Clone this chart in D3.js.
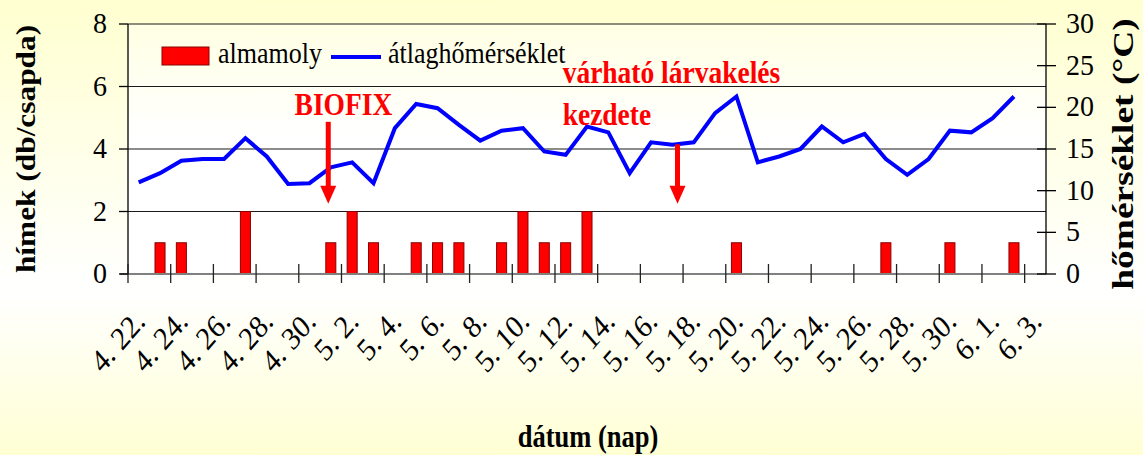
<!DOCTYPE html>
<html>
<head>
<meta charset="utf-8">
<script src="https://cdn.jsdelivr.net/npm/d3@7"></script>
<style>
html, body { margin: 0; padding: 0; }
body { width: 1143px; height: 455px; overflow: hidden; }
svg { display: block; }
</style>
</head>
<body>
<svg id="chart" width="1143" height="455"></svg>
<script>
// one category per day, 4.22. - 6.3.
const days = [
    "4. 22.", "4. 23.", "4. 24.", "4. 25.", "4. 26.", "4. 27.", "4. 28.", "4. 29.", "4. 30.",
    "5. 1.", "5. 2.", "5. 3.", "5. 4.", "5. 5.", "5. 6.", "5. 7.", "5. 8.", "5. 9.", "5. 10.",
    "5. 11.", "5. 12.", "5. 13.", "5. 14.", "5. 15.", "5. 16.", "5. 17.", "5. 18.", "5. 19.",
    "5. 20.", "5. 21.", "5. 22.", "5. 23.", "5. 24.", "5. 25.", "5. 26.", "5. 27.", "5. 28.",
    "5. 29.", "5. 30.", "5. 31.", "6. 1.", "6. 2.", "6. 3."
];

// male moths caught (db/csapda)
const almamoly = [
    0, 1, 1, 0, 0, 2, 0, 0, 0,
    1, 2, 1, 0, 1, 1, 1, 0, 1, 2,
    1, 1, 2, 0, 0, 0, 0, 0, 0,
    1, 0, 0, 0, 0, 0, 0, 1, 0,
    0, 1, 0, 0, 1, 0
];

// daily mean temperature (°C)
const atlaghomerseklet = [
    11.0, 12.1, 13.6, 13.8, 13.8, 16.3, 14.1, 10.8, 10.9,
    12.8, 13.4, 10.9, 17.5, 20.4, 19.9, 17.9, 16.0, 17.2, 17.5,
    14.7, 14.3, 17.7, 17.0, 12.1, 15.8, 15.5, 15.8, 19.3,
    21.3, 13.4, 14.1, 15.0, 17.7, 15.8, 16.8, 13.8, 11.9,
    13.8, 17.2, 17.0, 18.7, 21.3, null
];

const xTickLabels = [
    "4. 22.", "4. 24.", "4. 26.", "4. 28.", "4. 30.", "5. 2.", "5. 4.", "5. 6.", "5. 8.",
    "5. 10.", "5. 12.", "5. 14.", "5. 16.", "5. 18.", "5. 20.", "5. 22.", "5. 24.", "5. 26.",
    "5. 28.", "5. 30.", "6. 1.", "6. 3."
];
const leftTicks = [0, 2, 4, 6, 8];
const rightTicks = [0, 5, 10, 15, 20, 25, 30];

const svg = d3.select("#chart");
const W = 1143, H = 455;
const plot = {left: 128, right: 1046, top: 24, bottom: 274};
const serif = "'Liberation Serif', 'Times New Roman', Times, serif";

//the picture looks a little stretched vertically, texts too
const stretch = 1.12;

//background gradients
const defs = svg.append("defs");
const bg = defs.append("linearGradient").attr("id", "bg")
    .attr("x1", 0).attr("y1", 0).attr("x2", 0).attr("y2", 1);
bg.append("stop").attr("offset", "0%").attr("stop-color", "#ffffd0");
bg.append("stop").attr("offset", "64%").attr("stop-color", "#ffffff");
bg.append("stop").attr("offset", "100%").attr("stop-color", "#ffffd4");

const pg = defs.append("linearGradient").attr("id", "pg")
    .attr("x1", 0).attr("y1", 0).attr("x2", 0).attr("y2", 1);
pg.append("stop").attr("offset", "0%").attr("stop-color", "#ffffe4");
pg.append("stop").attr("offset", "45%").attr("stop-color", "#ffffff");
pg.append("stop").attr("offset", "100%").attr("stop-color", "#ffffff");

svg.append("rect").attr("width", W).attr("height", H).attr("fill", "url(#bg)");
svg.append("rect")
    .attr("x", plot.left).attr("y", plot.top)
    .attr("width", plot.right - plot.left).attr("height", plot.bottom - plot.top)
    .attr("fill", "url(#pg)");

//scales
const x = d3.scaleBand().domain(days).range([plot.left, plot.right]);
const xIdx = d3.scaleLinear().domain([0, days.length]).range([plot.left, plot.right]);
const yL = d3.scaleLinear().domain([0, 8]).range([plot.bottom, plot.top]);
const yR = d3.scaleLinear().domain([0, 30]).range([plot.bottom, plot.top]);
const cx = d => x(d) + x.bandwidth() / 2;

//small helper for text with the vertical stretch
function addText(g, px, py, str, opts) {
    opts = opts || {};
    return g.append("text")
        .attr("transform", "translate(" + px + "," + py + ") scale(1," + (opts.k || stretch) + ")" +
            (opts.rotate ? " rotate(" + opts.rotate + ")" : ""))
        .attr("font-family", serif)
        .attr("font-size", opts.size || 26)
        .attr("font-weight", opts.bold ? "bold" : "normal")
        .attr("fill", opts.color || "#000")
        .attr("text-anchor", opts.anchor || "start")
        .text(str);
}

//gridlines
svg.append("g").selectAll("line")
    .data(leftTicks.filter(v => v > 0))
    .enter().append("line")
    .attr("x1", plot.left).attr("x2", plot.right)
    .attr("y1", d => yL(d)).attr("y2", d => yL(d))
    .attr("stroke", "#1a1a1a").attr("stroke-width", 1.2);

//bars
let bw = x.bandwidth() * 0.47;
svg.append("g").selectAll("rect")
    .data(days.map((d, i) => ({day: d, v: almamoly[i]})).filter(d => d.v > 0))
    .enter().append("rect")
    .attr("x", d => cx(d.day) - bw / 2)
    .attr("width", bw)
    .attr("y", d => yL(d.v))
    .attr("height", d => yL(0) - yL(d.v))
    .attr("fill", "#ff0000")
    .attr("stroke", "#8b0000")
    .attr("stroke-width", 1);

//axes lines
svg.append("line").attr("x1", plot.left - 8).attr("x2", plot.right)
    .attr("y1", plot.bottom).attr("y2", plot.bottom)
    .attr("stroke", "#808080").attr("stroke-width", 2);
svg.append("line").attr("x1", plot.left).attr("x2", plot.left)
    .attr("y1", plot.top).attr("y2", plot.bottom)
    .attr("stroke", "#000").attr("stroke-width", 1.3);
svg.append("line").attr("x1", plot.right).attr("x2", plot.right)
    .attr("y1", plot.top).attr("y2", plot.bottom)
    .attr("stroke", "#000").attr("stroke-width", 1.3);

//left ticks (outside)
svg.append("g").selectAll("line")
    .data(leftTicks).enter().append("line")
    .attr("x1", plot.left - 9).attr("x2", plot.left)
    .attr("y1", d => yL(d)).attr("y2", d => yL(d))
    .attr("stroke", "#000").attr("stroke-width", 1.3);

//right ticks (cross)
svg.append("g").selectAll("line")
    .data(rightTicks).enter().append("line")
    .attr("x1", plot.right - 9).attr("x2", plot.right + 10)
    .attr("y1", d => yR(d)).attr("y2", d => yR(d))
    .attr("stroke", "#000").attr("stroke-width", 1.3);

//x ticks every 2 days, between categories
svg.append("g").selectAll("line")
    .data(d3.range(0, days.length, 2)).enter().append("line")
    .attr("x1", d => xIdx(d)).attr("x2", d => xIdx(d))
    .attr("y1", plot.bottom - 10).attr("y2", plot.bottom + 9)
    .attr("stroke", "#222").attr("stroke-width", 1.3);

//temperature line
let line = d3.line()
    .defined(d => d.v != null)
    .x(d => cx(d.day))
    .y(d => yR(d.v));
svg.append("path")
    .datum(days.map((d, i) => ({day: d, v: atlaghomerseklet[i]})))
    .attr("d", line)
    .attr("fill", "none")
    .attr("stroke", "#0000ff")
    .attr("stroke-width", 4);

//tick labels
let tl = svg.append("g");
leftTicks.forEach(v => addText(tl, 107, yL(v) + 9, v, {size: 28, anchor: "end", k: 1.08}));
rightTicks.forEach(v => addText(tl, 1066, yR(v) + 9, v, {size: 28, k: 1.08}));
xTickLabels.forEach(d => addText(tl, cx(d) + 8, 323, d, {size: 28, anchor: "end", rotate: -45, k: 1.15}));

//axis titles
addText(svg, 35, 149, "hímek (db/csapda)", {size: 28, bold: true, anchor: "middle", rotate: -90});
addText(svg, 1133, 154, "hőmérséklet (°C)", {size: 29, bold: true, anchor: "middle", rotate: -90, k: 1.29});
addText(svg, 588, 447, "dátum (nap)", {size: 26.5, bold: true, anchor: "middle", k: 1.2});

//legend
let lg = svg.append("g");
lg.append("rect").attr("x", 162).attr("y", 47).attr("width", 47).attr("height", 18)
    .attr("fill", "#ff0000").attr("stroke", "#8b0000").attr("stroke-width", 1);
addText(lg, 218, 63, "almamoly", {size: 26});
lg.append("line").attr("x1", 331).attr("x2", 381).attr("y1", 57).attr("y2", 57)
    .attr("stroke", "#0000ff").attr("stroke-width", 4);
addText(lg, 388, 63, "átlaghőmérséklet", {size: 26});

//annotations: BIOFIX and expected larval hatching
let an = svg.append("g");
addText(an, xIdx(10.09), yL(5.09), "BIOFIX", {size: 27.5, bold: true, color: "#ff0000", anchor: "middle", k: 1.17});
addText(an, xIdx(20.36), yL(6.1), "várható lárvakelés", {size: 27.5, bold: true, color: "#ff0000", k: 1.17});
addText(an, xIdx(20.36), yL(4.77), "kezdete", {size: 27.5, bold: true, color: "#ff0000", k: 1.17});

function arrow(g, at, from, to) {
    let ax = xIdx(at);
    let y0 = yL(from), y1 = yL(to);
    g.append("line").attr("x1", ax).attr("x2", ax).attr("y1", y0).attr("y2", y1 - 17)
        .attr("stroke", "#ff0000").attr("stroke-width", 5);
    g.append("path")
        .attr("d", "M" + (ax - 8) + "," + (y1 - 18) + "L" + (ax + 8) + "," + (y1 - 18) + "L" + ax + "," + y1 + "Z")
        .attr("fill", "#ff0000");
}
arrow(an, 9.38, 4.87, 2.25);
arrow(an, 25.74, 4.15, 2.25);
</script>
</body>
</html>
